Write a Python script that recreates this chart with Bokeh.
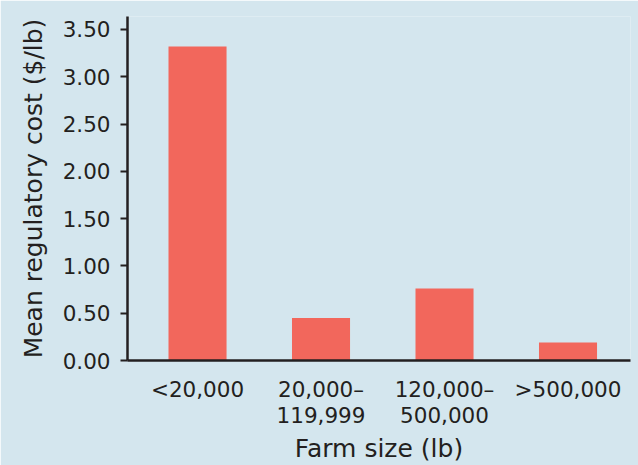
from bokeh.plotting import figure
from bokeh.models import ColumnDataSource, FixedTicker, Range1d
from bokeh.embed import file_html
from bokeh.resources import INLINE

categories = ["<20,000", "20,000\u2013\n119,999", "120,000\u2013\n500,000", ">500,000"]
costs = [3.32, 0.45, 0.76, 0.19]
y_ticks = [0.0, 0.5, 1.0, 1.5, 2.0, 2.5, 3.0, 3.5]

positions = list(range(len(categories)))
source = ColumnDataSource(dict(x=positions, top=costs))

FONT = "DejaVu Sans"
TEXT = "#231f20"
BG = "#d4e6ee"

p = figure(width=638, height=465, output_backend="svg", toolbar_location=None,
           x_range=Range1d(-0.567, 3.506), y_range=Range1d(0, 3.637),
           min_border_left=127, min_border_right=8, min_border_top=16, min_border_bottom=104)
p.background_fill_color = BG
p.border_fill_color = BG
p.outline_line_color = None
p.grid.visible = False

p.vbar(x="x", top="top", width=0.47, source=source, color="#f2675c", line_color=None)

p.xaxis.ticker = FixedTicker(ticks=positions)
p.xaxis.major_label_overrides = {i: c for i, c in enumerate(categories)}
p.yaxis.ticker = FixedTicker(ticks=y_ticks)
p.yaxis.major_label_overrides = {t: f"{t:.2f}" for t in y_ticks}

p.xaxis.axis_label = "Farm size (lb)"
p.yaxis.axis_label = "Mean regulatory cost ($/lb)"

for ax in (p.xaxis, p.yaxis):
    ax.axis_line_color = TEXT
    ax.axis_line_width = 2.5
    ax.major_label_text_font = FONT
    ax.major_label_text_font_size = "21.5px"
    ax.major_label_text_color = TEXT
    ax.axis_label_text_font = FONT
    ax.axis_label_text_font_style = "normal"
    ax.axis_label_text_color = TEXT
    ax.minor_tick_line_color = None

p.xaxis.major_tick_line_color = None
p.xaxis.major_label_standoff = 10
p.xaxis.major_label_text_line_height = 1.05
p.xaxis.axis_label_text_font_size = "25px"
p.xaxis.axis_label_standoff = 3

p.yaxis.major_tick_line_color = TEXT
p.yaxis.major_tick_line_width = 2
p.yaxis.major_tick_out = 7
p.yaxis.major_tick_in = 0
p.yaxis.major_label_standoff = 10
p.yaxis.axis_label_text_font_size = "25px"
p.yaxis.axis_label_standoff = 12

open("out.html", "w").write(file_html(p, INLINE))
